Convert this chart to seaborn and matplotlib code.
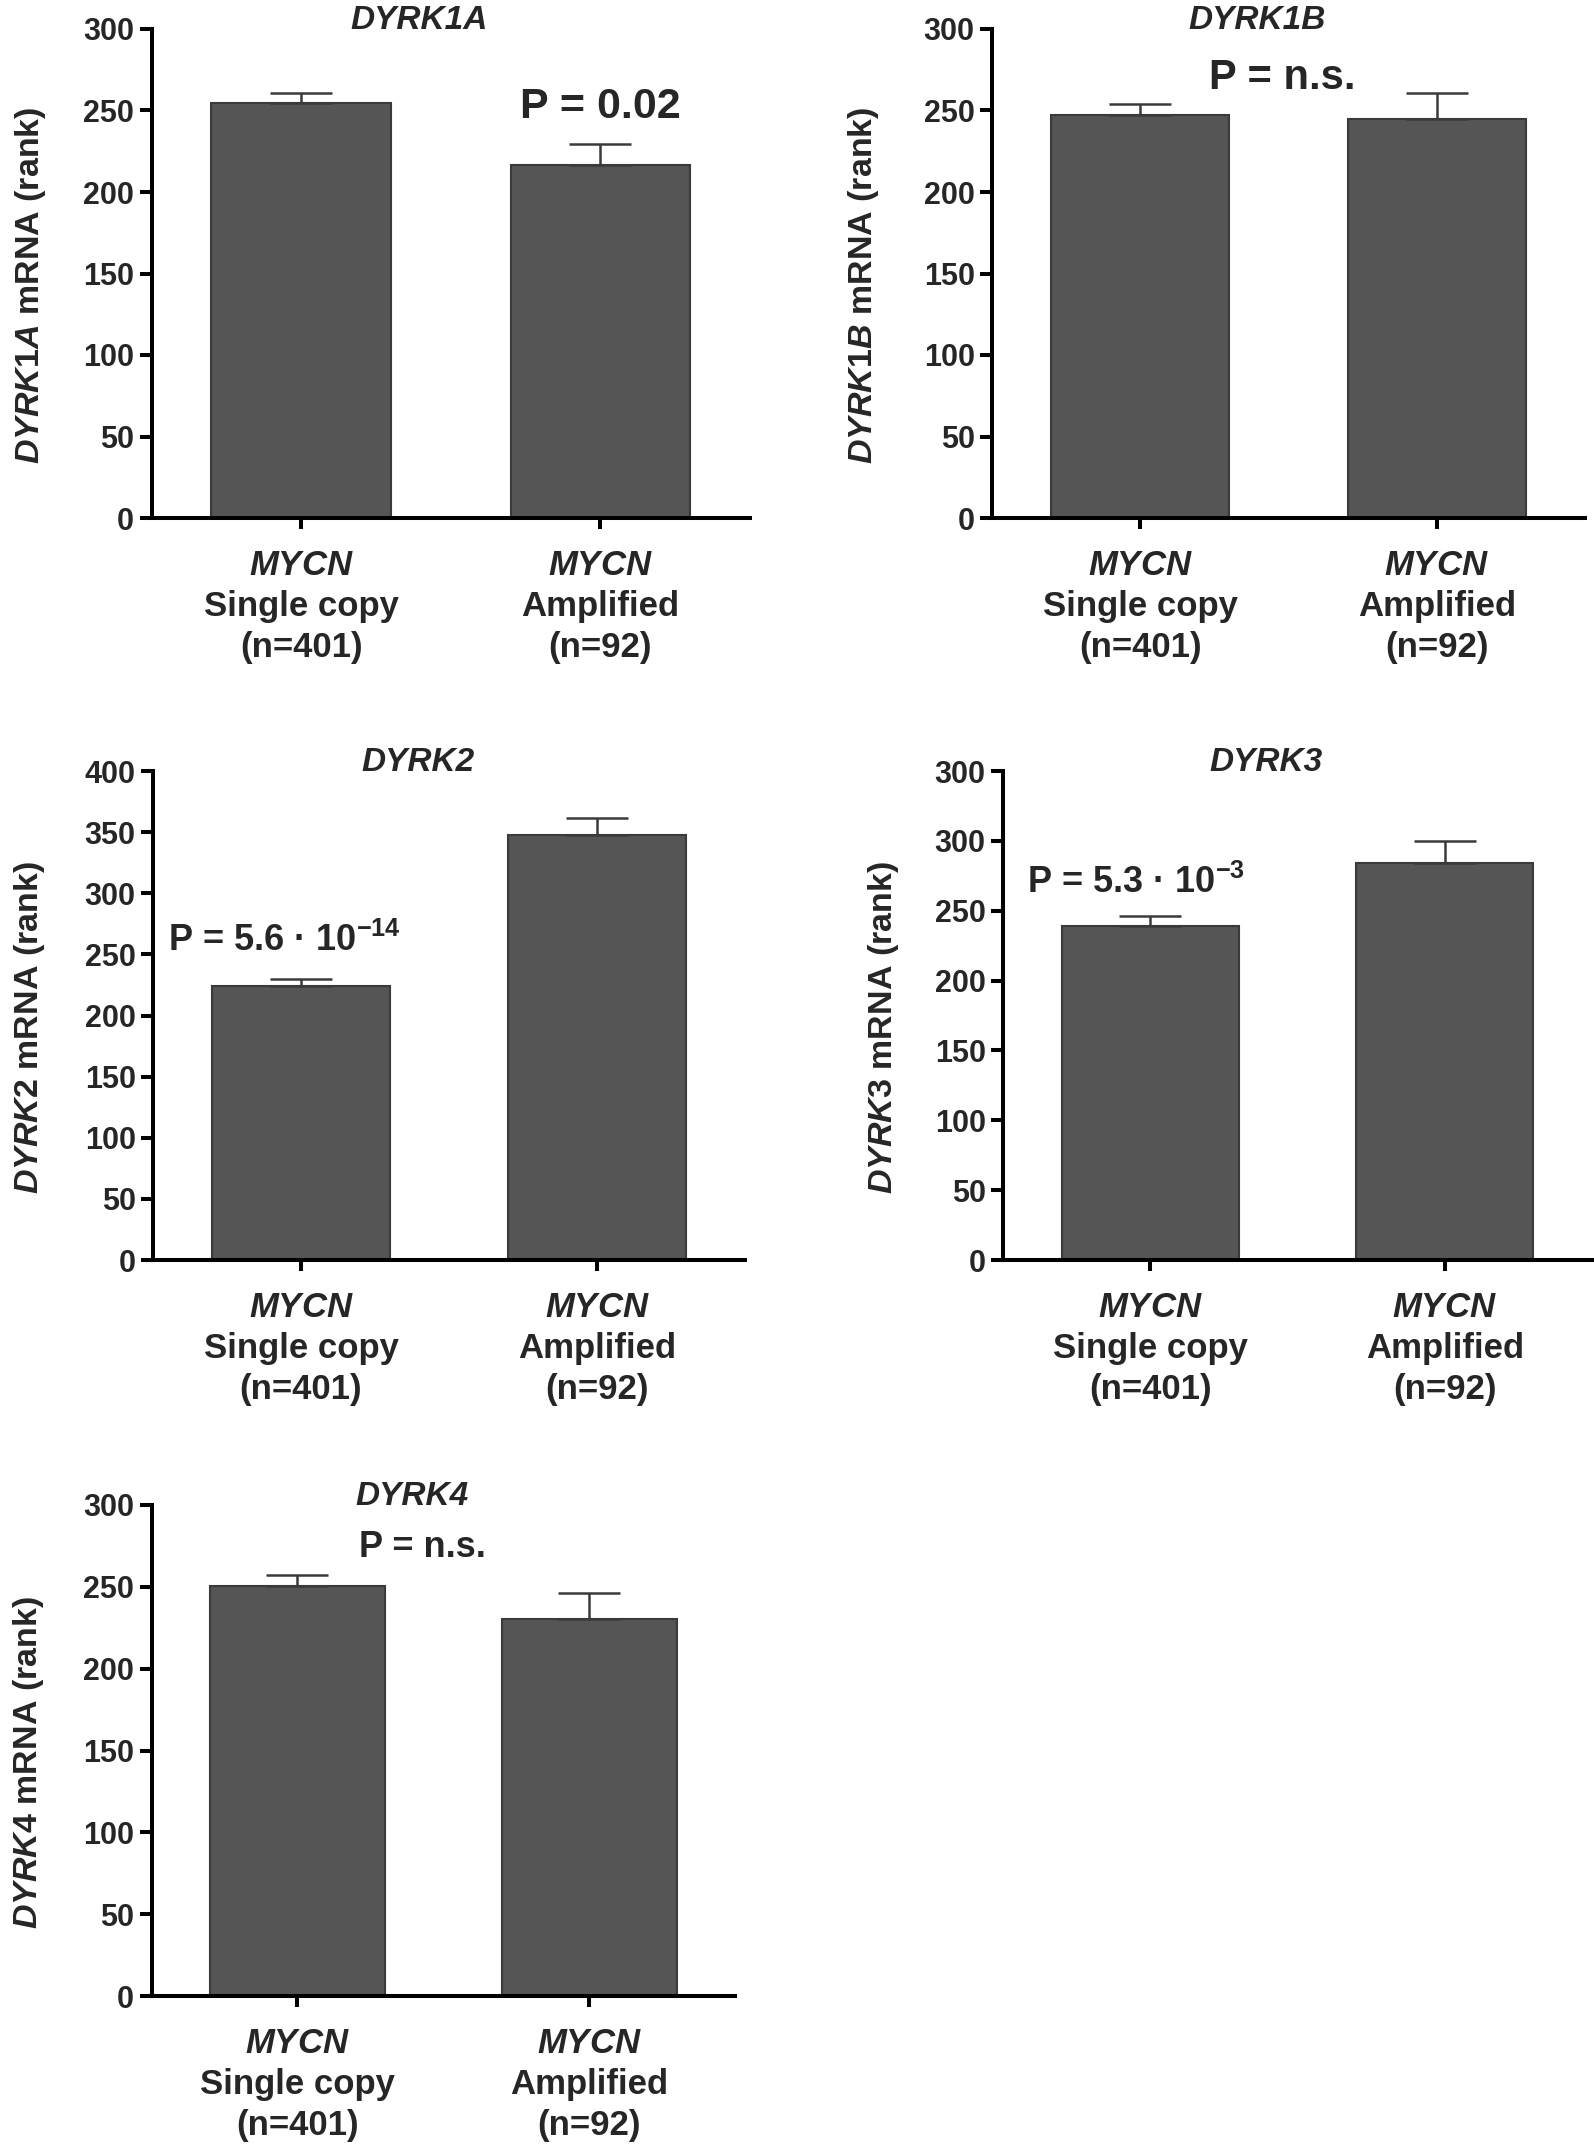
import numpy as np
import pandas as pd
import matplotlib
matplotlib.use("Agg")
import matplotlib.pyplot as plt
import seaborn as sns

# Data
genes = ["DYRK1A", "DYRK1B", "DYRK2", "DYRK3", "DYRK4"]
groups = ["Single copy", "Amplified"]
counts = [401, 92]
mean_single = [254.5, 247.3, 223.9, 238.8, 250.5]
mean_amp = [216.4, 245.0, 347.7, 284.2, 230.4]
err_single = [6.5, 6.7, 6.1, 7.1, 6.8]
err_amp = [12.9, 16.0, 13.5, 15.7, 15.6]
p_labels = ["P = 0.02", "P = n.s.", r"P = 5.6 · 10$^{-14}$", r"P = 5.3 · 10$^{-3}$", "P = n.s."]
y_max = [300, 300, 400, 350, 300]
dyrk3_ticklabels = ["0", "50", "100", "150", "200", "250", "300", "300"]

# Layout (pixels: left, top, right, bottom)
W, H = 1594, 2149
frames = [(151.5, 29, 750, 518), (992, 29, 1585, 518),
          (153, 771, 745, 1260), (1003, 771, 1592, 1260),
          (151.5, 1505, 735, 1996)]
p_pos = [(1.0, 252, 'center'), (0.48, 270, 'center'), (-0.45, 261, 'left'),
         (-0.42, 270, 'left'), (0.43, 274, 'center')]
p_size = [31, 30, 26, 26, 26]
label_pads = [25, 31, 27, 24, 27]

sns.set_style("ticks")
plt.rcParams['font.family'] = ['Liberation Sans', 'DejaVu Sans']
plt.rcParams['font.weight'] = 'bold'
plt.rcParams['axes.labelweight'] = 'bold'
plt.rcParams['mathtext.fontset'] = 'custom'
plt.rcParams['mathtext.it'] = 'Liberation Sans:bold:italic'
plt.rcParams['mathtext.rm'] = 'Liberation Sans:bold'
plt.rcParams['mathtext.bf'] = 'Liberation Sans:bold'
plt.rcParams['mathtext.default'] = 'regular'

fig = plt.figure(figsize=(W / 100, H / 100), dpi=100)

for i, gene in enumerate(genes):
    l, t, r, b = frames[i]
    ax = fig.add_axes([l / W, 1 - b / H, (r - l) / W, (b - t) / H])

    df = pd.DataFrame({'group': groups, 'rank': [mean_single[i], mean_amp[i]]})
    sns.barplot(data=df, x='group', y='rank', color='#555555', saturation=1,
                width=0.6, edgecolor='#3a3a3a', linewidth=1.5, errorbar=None, ax=ax)
    ax.errorbar([0, 1], df['rank'], yerr=[[0, 0], [err_single[i], err_amp[i]]],
                fmt='none', ecolor='#3a3a3a', elinewidth=1.8, capsize=22,
                capthick=1.8, zorder=3)

    ax.set_xlim(-0.5, 1.5)
    ax.set_ylim(0, y_max[i])
    ax.set_yticks(np.arange(0, y_max[i] + 1, 50))
    if gene == "DYRK3":
        ax.set_yticklabels(dyrk3_ticklabels)
    ax.set_xticks([0, 1])
    ax.set_xticklabels([f"$\\mathit{{MYCN}}$\n{g}\n(n={n})" for g, n in zip(groups, counts)],
                       fontsize=25, linespacing=1.32)
    ax.tick_params(axis='y', labelsize=22, length=8.5, width=2.9, pad=4, color='black')
    ax.tick_params(axis='x', length=8, width=2.9, pad=14, color='black')
    sns.despine(ax=ax)
    for s in ['left', 'bottom']:
        ax.spines[s].set_linewidth(2.9)
        ax.spines[s].set_color('black')

    ax.set_xlabel('')
    ax.set_ylabel(f"$\\mathit{{{gene}}}$ mRNA (rank)", fontsize=24.5,
                  fontweight='bold', labelpad=label_pads[i])
    ax.yaxis.label.set_y(0.476)

    # Titel dan nilai P
    ax.text(0.447, 1.017, gene, transform=ax.transAxes, ha='center', va='center',
            fontsize=24, fontstyle='italic', fontweight='bold')
    px, py, ha = p_pos[i]
    ax.text(px, py, p_labels[i], ha=ha, va='center', fontsize=p_size[i], fontweight='bold')

fig.savefig('out.png', dpi=100, facecolor='white')
